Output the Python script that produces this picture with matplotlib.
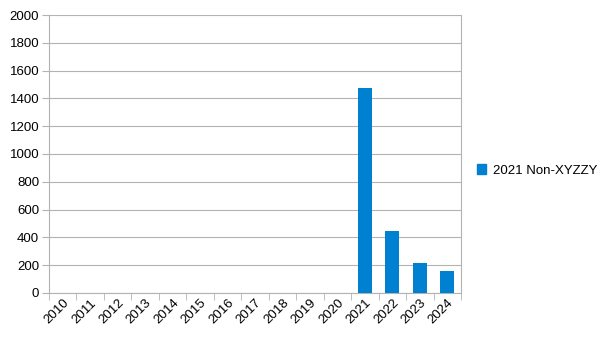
import numpy as np
import matplotlib
matplotlib.use('Agg')
from matplotlib import pyplot as plt
from matplotlib.patches import Patch

years = ['2010', '2011', '2012', '2013', '2014', '2015', '2016', '2017',
         '2018', '2019', '2020', '2021', '2022', '2023', '2024']
values = [0, 0, 0, 0, 0, 0, 0, 0, 0, 0, 0, 1478, 443, 218, 158]
series_name = '2021 Non-XYZZY'

plt.rcParams['font.family'] = ['Liberation Sans', 'DejaVu Sans']

fig = plt.figure(figsize=(6.05, 3.41), dpi=100)
ax = fig.add_axes([0.081, 0.141, 0.681, 0.815])

x = np.arange(len(years))
ax.bar(x, values, width=0.5, color='#0080d0', zorder=3)

ax.set_xlim(-0.5, len(years) - 0.5)
ax.set_ylim(0, 2000)
ax.set_yticks(range(0, 2001, 200))
ax.yaxis.grid(True, color='#b3b3b3', linewidth=0.8, zorder=0)

ax.set_xticks(x)
ax.set_xticklabels(years, rotation=45, ha='right', rotation_mode='anchor', fontsize=9.5)
ax.tick_params(axis='x', length=0, pad=3)
ax.set_xticks(np.arange(-0.5, len(years)), minor=True)
ax.tick_params(axis='x', which='minor', length=5, color='#b3b3b3')
ax.tick_params(axis='y', length=5, color='#b3b3b3', labelsize=9.5, pad=2)

for s in ['top']:
    ax.spines[s].set_visible(False)
for s in ['left', 'right', 'bottom']:
    ax.spines[s].set_color('#b3b3b3')
    ax.spines[s].set_linewidth(0.8)

fig.legend(handles=[Patch(color='#0080d0', label=series_name)],
           loc='center left', bbox_to_anchor=(0.769, 0.5), frameon=False,
           fontsize=9.5, handlelength=0.7, handleheight=0.7, handletextpad=0.5)

fig.savefig('out.png', dpi=100)
